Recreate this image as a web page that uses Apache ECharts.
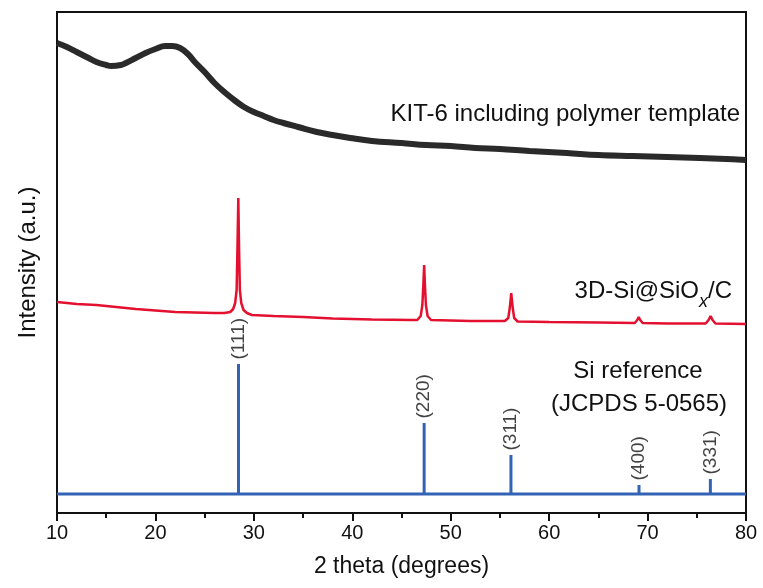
<!DOCTYPE html>
<html>
<head>
<meta charset="utf-8">
<script src="https://cdn.jsdelivr.net/npm/echarts@6/dist/echarts.min.js"></script>
<style>html,body{margin:0;padding:0;background:#fff}#c{width:763px;height:588px}</style>
</head>
<body>
<div id="c"></div>
<script>
// ---- data (x = 2 theta in degrees, y = intensity in arbitrary units, offset stacked) ----
const kitX = [10,11,12,13,14,15,15.5,16.5,17,18,19,20,21,21.7,22.5,23.3,24,25,26,27,28,29,30,31,32,33,34.5,36.4,38,39.8,42,45,47.5,50,52.5,55,58,61.8,65,68.5,72,75.3,78,80];
const kitY = [470,466,461,456,451,448,447,448,450,455,460,464,467,467,465,459,451,441,430,421,413,406,401,397,393,390,386,381,378,375,372,370,368,367,365,364,362,360,358,357,356,355,354,353];

const siCX = [10,12,14,16,18,20,22,24,26,27,27.6,27.9,28.1,28.25,28.33,28.42,28.5,28.58,28.72,28.95,29.3,29.8,32,35,38,42,46,46.6,46.95,47.12,47.22,47.3,47.38,47.48,47.65,48.0,52,55.5,55.85,56.0,56.15,56.3,56.45,56.8,60,65,68.7,68.95,69.1,69.25,69.5,72,75.9,76.2,76.4,76.6,76.9,80];
const siCY = [211,209,208,206,204,202.5,201,200.5,200,200,201,204,210,223,263,315,263,223,210,203,200,198,197,196,194.5,193.5,193,193,197,208,228,248,228,208,197,193,192,192,195,205,220,205,195,191.5,191,190.5,190,193,196,193,190,189.5,189.5,193,197,193,189.5,189];

const refBase = 19;
const refPos = [28.44, 47.30, 56.12, 69.13, 76.38];
const refTop = [149, 90, 58, 28, 34];
const refLabels = ['(111)', '(220)', '(311)', '(400)', '(331)'];

const xTicks = [10, 20, 30, 40, 50, 60, 70, 80];

// ---- build series data ----
const kitData = kitX.map((x, i) => [x, kitY[i]]);
const siCData = siCX.map((x, i) => [x, siCY[i]]);
const refData = [[xTicks[0], refBase]];
refPos.forEach((p, i) => { refData.push([p, refBase], [p, refTop[i]], [p, refBase]); });
refData.push([xTicks[xTicks.length - 1], refBase]);
const refLabelData = refPos.map((p, i) => [p, refTop[i]]);

const FONT = 'Liberation Sans, Arial, Helvetica, sans-serif';
const chart = echarts.init(document.getElementById('c'), null, {renderer: 'canvas'});

chart.setOption({
  animation: false,
  backgroundColor: '#fff',
  grid: {left: 57, right: 17, top: 12, bottom: 75, show: true, borderColor: '#111', borderWidth: 2, backgroundColor: 'transparent'},
  xAxis: {
    type: 'value', min: xTicks[0], max: xTicks[xTicks.length - 1], interval: 10,
    axisLine: {show: true, lineStyle: {color: '#111', width: 2}},
    axisTick: {show: true, length: 8, lineStyle: {color: '#111', width: 2}},
    minorTick: {show: true, splitNumber: 2, length: 5, lineStyle: {color: '#111', width: 2}},
    splitLine: {show: false},
    axisLabel: {color: '#111', fontSize: 20, fontFamily: FONT, margin: 10},
    name: '2 theta (degrees)', nameLocation: 'middle', nameGap: 42,
    nameTextStyle: {color: '#111', fontSize: 23, fontFamily: FONT}
  },
  yAxis: {
    type: 'value', min: 0, max: 501,
    axisLine: {show: false}, axisTick: {show: false}, axisLabel: {show: false}, splitLine: {show: false},
    name: 'Intensity (a.u.)', nameLocation: 'middle', nameGap: 17,
    nameTextStyle: {color: '#111', fontSize: 24, fontFamily: FONT}
  },
  series: [
    {type: 'line', data: kitData, symbol: 'none', smooth: 0.4, lineStyle: {color: '#2a2a2a', width: 6}, z: 3},
    {type: 'line', data: siCData, symbol: 'none', lineStyle: {color: '#e3102f', width: 2.5}, z: 3},
    {type: 'line', data: refData, symbol: 'none', lineStyle: {color: '#3263b5', width: 3}, z: 3},
    {type: 'scatter', data: refLabelData, symbolSize: 1, itemStyle: {color: 'rgba(0,0,0,0)'}, z: 4,
     label: {show: true, position: 'top', distance: 4, rotate: 90, align: 'left', verticalAlign: 'middle',
             color: '#111', fontSize: 19, fontFamily: FONT,
             formatter: p => refLabels[p.dataIndex]}}
  ],
  graphic: [
    {type: 'text', right: 23, top: 102, style: {text: 'KIT-6 including polymer template', fill: '#111', font: '24px ' + FONT}},
    {type: 'text', x: 732, y: 291, style: {
      text: '{a|3D-Si@SiO}{s|x}{a|/C}', align: 'right', verticalAlign: 'middle',
      rich: {
        a: {fontSize: 24, fontFamily: FONT, fill: '#111', lineHeight: 40},
        s: {fontSize: 18, fontFamily: FONT, fontStyle: 'italic', fill: '#111', lineHeight: 18, verticalAlign: 'bottom'}
      }}},
    {type: 'text', x: 638, y: 371, style: {text: 'Si reference', fill: '#111', font: '24px ' + FONT, align: 'center', verticalAlign: 'middle'}},
    {type: 'text', x: 639, y: 404, style: {text: '(JCPDS 5-0565)', fill: '#111', font: '24px ' + FONT, align: 'center', verticalAlign: 'middle'}}
  ]
});
</script>
</body>
</html>
